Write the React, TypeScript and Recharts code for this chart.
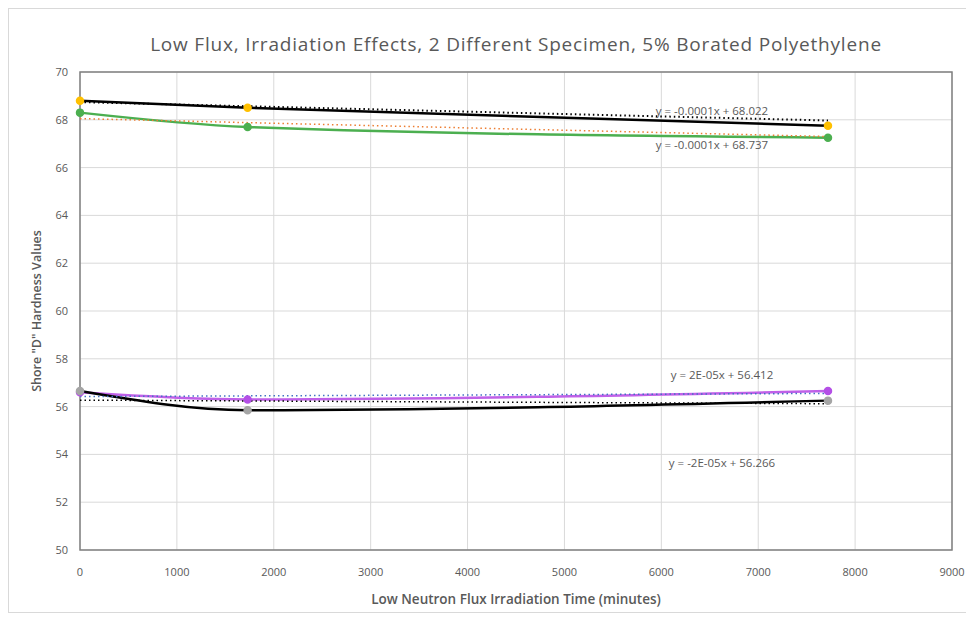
import React from 'react';
import { LineChart, Line, XAxis, YAxis, CartesianGrid, ReferenceArea, ReferenceDot, Label } from 'recharts';

const timeMinutes = [0, 1730, 7720];

// top pair (specimen 1 / specimen 2, upper hardness band)
const hardnessGold = [68.8, 68.5, 67.75];
const hardnessGreen = [68.3, 67.7, 67.25];
// bottom pair
const hardnessPurple = [56.6, 56.3, 56.65];
const hardnessGray = [56.65, 55.85, 56.25];

// linear trendlines, read at both ends of the data range
const trendTime = [0, 7720];
const trendBlackTop = [68.74, 67.97];
const trendOrange = [68.05, 67.3];
const trendBlue = [56.42, 56.55];
const trendBlackBottom = [56.27, 56.12];

const trendLabels = [
  'y = -0.0001x + 68.022',
  'y = -0.0001x + 68.737',
  'y = 2E-05x + 56.412',
  'y = -2E-05x + 56.266',
];

const xTicks = [0, 1000, 2000, 3000, 4000, 5000, 6000, 7000, 8000, 9000];
const yTicks = [50, 52, 54, 56, 58, 60, 62, 64, 66, 68, 70];

const toPoints = (xs: number[], ys: number[]) => xs.map((x, i) => ({ x, y: ys[i] }));

const FONT = '"Open Sans", sans-serif';
const TEXT = '#595959';

const App: React.FC = () => {
  const tickStyle = { fill: TEXT, fontSize: 11, fontFamily: FONT };
  const eqLabel = (value: string) => ({ value, position: 'center' as const, fill: TEXT, fontSize: 11.5, fontFamily: FONT });

  return (
    <div style={{ width: 958, height: 603, border: '1px solid #d9d9d9', position: 'relative', background: '#fff' }}>
      <div
        style={{
          position: 'absolute',
          left: 71,
          width: 872,
          top: 22,
          lineHeight: '26px',
          textAlign: 'center',
          fontFamily: FONT,
          fontSize: 19,
          letterSpacing: 0.8,
          color: TEXT,
        }}
      >
        Low Flux, Irradiation Effects, 2 Different Specimen, 5% Borated Polyethylene
      </div>
      <LineChart width={958} height={603} margin={{ top: 63, right: 15, bottom: 2, left: 0 }}>
        <CartesianGrid stroke="#d9d9d9" />
        <XAxis
          dataKey="x"
          type="number"
          domain={[0, 9000]}
          ticks={xTicks}
          height={60}
          tickSize={0}
          tickMargin={18}
          axisLine={false}
          tick={tickStyle}
        >
          <Label
            value="Low Neutron Flux Irradiation Time (minutes)"
            position="insideBottom"
            offset={6}
            style={{ fill: TEXT, fontSize: 13.5, fontWeight: 600, fontFamily: FONT }}
          />
        </XAxis>
        <YAxis
          type="number"
          domain={[50, 70]}
          ticks={yTicks}
          width={71}
          tickSize={0}
          tickMargin={12}
          axisLine={false}
          tick={tickStyle}
        >
          <Label
            value={'Shore "D" Hardness Values'}
            angle={-90}
            position="insideLeft"
            offset={28}
            style={{ fill: TEXT, fontSize: 12.5, fontWeight: 600, fontFamily: FONT, textAnchor: 'middle' }}
          />
        </YAxis>
        <ReferenceArea x1={0} x2={9000} y1={50} y2={70} fill="none" stroke="#808080" strokeWidth={1.5} />

        <Line data={toPoints(timeMinutes, hardnessGreen)} dataKey="y" type="monotone" stroke="#4caf50" strokeWidth={2.5}
          dot={{ r: 3, fill: '#4caf50', stroke: '#4caf50' }} isAnimationActive={false} />
        <Line data={toPoints(timeMinutes, hardnessGold)} dataKey="y" type="monotone" stroke="#000" strokeWidth={2.5}
          dot={{ r: 3, fill: '#ffc000', stroke: '#ffc000' }} isAnimationActive={false} />
        <Line data={toPoints(timeMinutes, hardnessPurple)} dataKey="y" type="monotone" stroke="#c060e8" strokeWidth={2.5}
          dot={{ r: 3, fill: '#b44fe6', stroke: '#b44fe6' }} isAnimationActive={false} />
        <Line data={toPoints(timeMinutes, hardnessGray)} dataKey="y" type="monotone" stroke="#000" strokeWidth={2.5}
          dot={{ r: 3, fill: '#a5a5a5', stroke: '#a5a5a5' }} isAnimationActive={false} />

        <Line data={toPoints(trendTime, trendOrange)} dataKey="y" type="linear" stroke="#ed7d31" strokeWidth={1.5}
          strokeDasharray="1.5 3" dot={false} isAnimationActive={false} />
        <Line data={toPoints(trendTime, trendBlackTop)} dataKey="y" type="linear" stroke="#000" strokeWidth={2}
          strokeDasharray="1.5 3" dot={false} isAnimationActive={false} />
        <Line data={toPoints(trendTime, trendBlue)} dataKey="y" type="linear" stroke="#4472c4" strokeWidth={1.5}
          strokeDasharray="1.5 3" dot={false} isAnimationActive={false} />
        <Line data={toPoints(trendTime, trendBlackBottom)} dataKey="y" type="linear" stroke="#000" strokeWidth={1.5}
          strokeDasharray="1.5 3" dot={false} isAnimationActive={false} />

        <ReferenceDot x={6523} y={68.37} r={1} fill="none" stroke="none" label={eqLabel(trendLabels[0])} />
        <ReferenceDot x={6523} y={66.95} r={1} fill="none" stroke="none" label={eqLabel(trendLabels[1])} />
        <ReferenceDot x={6626} y={57.32} r={1} fill="none" stroke="none" label={eqLabel(trendLabels[2])} />
        <ReferenceDot x={6626} y={53.64} r={1} fill="none" stroke="none" label={eqLabel(trendLabels[3])} />
      </LineChart>
    </div>
  );
};

export default App;
